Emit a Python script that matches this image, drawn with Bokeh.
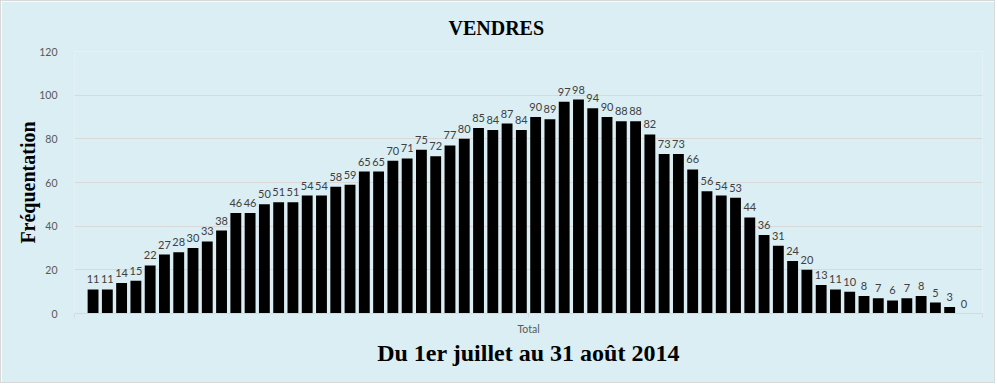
from bokeh.plotting import figure
from bokeh.models import Range1d, FixedTicker, ColumnDataSource
from bokeh.core.properties import value
from bokeh.embed import file_html
from bokeh.resources import INLINE

# Daily attendance, 1 July - 31 August 2014
days = list(range(1, 63))
frequentation = [11, 11, 14, 15, 22, 27, 28, 30, 33, 38, 46, 46, 50, 51, 51, 54, 54, 58, 59, 65,
                 65, 70, 71, 75, 72, 77, 80, 85, 84, 87, 84, 90, 89, 97, 98, 94, 90, 88, 88, 82,
                 73, 73, 66, 56, 54, 53, 44, 36, 31, 24, 20, 13, 11, 10, 8, 7, 6, 7, 8, 5, 3, 0]
y_ticks = [0, 20, 40, 60, 80, 100, 120]
category_label = "Total"
title_text = "VENDRES"
y_title = "Fréquentation"
x_title = "Du 1er juillet au 31 août 2014"

BG = "#DAEEF3"
GRID = "#D9D9D9"

source = ColumnDataSource(dict(x=days, y=frequentation, label=[str(v) for v in frequentation]))

p = figure(width=995, height=383, output_backend="svg", toolbar_location=None,
           x_range=Range1d(-0.3, 63.3), y_range=Range1d(0, 120),
           min_border_left=73, min_border_right=14, min_border_top=50, min_border_bottom=71,
           styles={"border": "1px solid #D9D9D9"})
p.background_fill_color = BG
p.border_fill_color = BG
p.outline_line_color = None

p.title.text = title_text
p.title.align = "left"
p.title.offset = 374
p.title.standoff = 24
p.title.vertical_align = "middle"
p.title.text_font = "Liberation Serif"
p.title.text_font_style = "bold"
p.title.text_font_size = "20px"
p.title.text_color = "black"

p.vbar(x="x", top="y", width=0.76, source=source, fill_color="black", line_color=None)
p.text(x="x", y="y", text="label", source=source, text_align="center", text_baseline="alphabetic",
       y_offset=-10, text_font=value("Lato"), text_font_size="11px", text_color="#404040")

# y axis
p.yaxis.ticker = FixedTicker(ticks=y_ticks)
p.yaxis.axis_line_color = None
p.yaxis.major_tick_line_color = None
p.yaxis.minor_tick_line_color = None
p.yaxis.major_label_text_color = "#595959"
p.yaxis.major_label_text_font = "Lato"
p.yaxis.major_label_text_font_size = "10.5px"
p.yaxis.major_label_standoff = 11
p.yaxis.axis_label = y_title
p.yaxis.axis_label_text_font = "Liberation Serif"
p.yaxis.axis_label_text_font_style = "bold"
p.yaxis.axis_label_text_font_size = "20px"
p.yaxis.axis_label_text_color = "black"
p.yaxis.axis_label_standoff = -3

p.ygrid.ticker = FixedTicker(ticks=y_ticks[1:])
p.ygrid.grid_line_color = GRID
p.xgrid.grid_line_color = None

# x axis
p.xaxis.ticker = FixedTicker(ticks=[-0.3, 31.5, 63.3])
p.xaxis.major_label_overrides = {-0.3: "", 31.5: category_label, 63.3: ""}
p.xaxis.axis_line_color = GRID
p.xaxis.major_tick_line_color = GRID
p.xaxis.major_tick_in = 0
p.xaxis.major_tick_out = 4
p.xaxis.minor_tick_line_color = None
p.xaxis.major_label_text_color = "#595959"
p.xaxis.major_label_text_font = "Lato"
p.xaxis.major_label_text_font_size = "10.5px"
p.xaxis.axis_label = x_title
p.xaxis.axis_label_text_font = "Liberation Serif"
p.xaxis.axis_label_text_font_style = "bold"
p.xaxis.axis_label_text_font_size = "24px"
p.xaxis.axis_label_text_color = "black"
p.xaxis.axis_label_standoff = 2

open("out.html", "w").write(file_html(p, INLINE))
